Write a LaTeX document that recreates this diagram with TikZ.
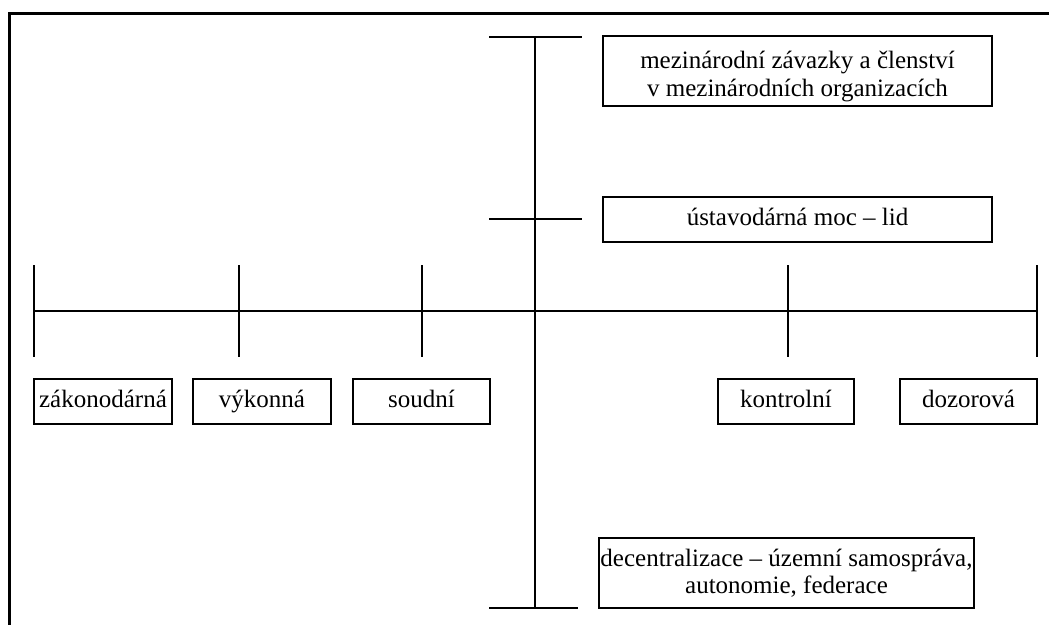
\documentclass[tikz,border=0pt]{standalone}
\usepackage{fontspec}
\setmainfont{Liberation Serif}
\begin{document}
\begin{tikzpicture}[x=1pt,y=-1pt,
  frame/.style={line width=3pt},
  axis/.style={line width=2pt},
  box/.style={draw, line width=1.6pt, inner sep=0pt, align=center,
    font=\fontsize{25}{27.5}\selectfont, text height=17pt, text depth=6pt},
  hbox/.style={box, minimum height=45pt},
  tbox/.style={box, minimum height=70pt}]
\useasboundingbox (0,0) rectangle (1049,625);
% frame (top and left only)
\draw[frame] (1049,13) -- (9.5,13) -- (9.5,625);
% coordinates
\coordinate (vt) at (535,37);
\coordinate (vb) at (535,608);
\coordinate (c1l) at (489,37);  \coordinate (c1r) at (582,37);
\coordinate (c2l) at (489,219); \coordinate (c2r) at (582,219);
\coordinate (c3l) at (489,608); \coordinate (c3r) at (578,608);
\coordinate (hl) at (34,311);
\coordinate (hr) at (1037,311);
\foreach \n/\x in {t1/34,t2/239,t3/422,t4/788,t5/1037}{
  \coordinate (\n a) at (\x,265);
  \coordinate (\n b) at (\x,357);
}
% axes
\draw[axis] (vt) -- (vb);
\draw[axis] (c1l) -- (c1r);
\draw[axis] (c2l) -- (c2r);
\draw[axis] (c3l) -- (c3r);
\draw[axis] (hl) -- (hr);
\foreach \n in {t1,t2,t3,t4,t5}{
  \draw[axis] (\n a) -- (\n b);
}
% boxes
\node[hbox, minimum width=138pt] (zak) at (103,401.5) {zákonodárná};
\node[hbox, minimum width=138pt] (vyk) at (262,401.5) {výkonná};
\node[hbox, minimum width=137pt] (sou) at (421.5,401.5) {soudní};
\node[hbox, minimum width=136pt] (kon) at (786,401.5) {kontrolní};
\node[hbox, minimum width=137pt] (doz) at (968.5,401.5) {dozorová};
\node[tbox, minimum width=389pt, text height=, text depth=] (mez) at (797.5,71) {\rule{0pt}{28pt}mezinárodní závazky a členství\\v mezinárodních organizacích};
\node[hbox, minimum width=389pt] (ust) at (797.5,219.5) {ústavodárná moc – lid};
\node[tbox, minimum width=375pt, text height=, text depth=] (dec) at (786.5,573) {decentralizace – územní samospráva,\\autonomie, federace};
\end{tikzpicture}
\end{document}
